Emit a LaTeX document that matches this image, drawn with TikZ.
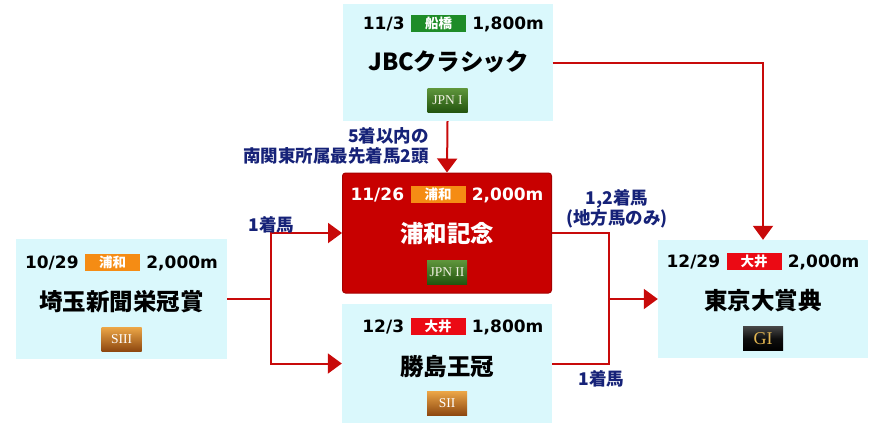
\documentclass[tikz,border=0pt]{standalone}
\usepackage{fontspec}
\setmainfont{DejaVu Sans}
\newfontfamily\cjk{Noto Sans CJK JP}
\newfontfamily\gradefont{Liberation Serif}
\usetikzlibrary{arrows.meta}
\definecolor{boxcyan}{RGB}{218,248,252}
\definecolor{redbox}{RGB}{200,0,0}
\definecolor{rededge}{RGB}{165,0,0}
\definecolor{linered}{RGB}{200,10,10}
\definecolor{navy}{RGB}{22,34,120}
\definecolor{vgreen}{RGB}{30,140,40}
\definecolor{vorange}{RGB}{245,140,20}
\definecolor{vred}{RGB}{235,10,20}
\definecolor{gold}{RGB}{225,180,80}
\tikzset{
  racebox/.style={rectangle, fill=boxcyan, inner sep=0pt, minimum width=210pt},
  redrace/.style={rectangle, fill=redbox, draw=rededge, line width=1pt, rounded corners=3pt, inner sep=0pt, minimum width=209pt},
  venue/.style={rectangle, inner sep=0pt, minimum width=55pt, minimum height=17pt, text=white, font=\cjk\bfseries\fontsize{13.5}{13.5}\selectfont},
  datetxt/.style={inner sep=0pt, text height=12.4pt, text depth=0pt, font=\bfseries\fontsize{17}{17}\selectfont},
  racetitle/.style={inner sep=0pt, font=\cjk\bfseries\fontsize{23.5}{24}\selectfont},
  grade/.style={rectangle, inner sep=0pt, minimum width=40pt, minimum height=24pt, font=\gradefont\fontsize{13.5}{13.5}\selectfont},
  jpn/.style={grade, top color={rgb,255:red,95;green,150;blue,60}, bottom color={rgb,255:red,35;green,85;blue,15}, text={rgb,255:red,240;green,240;blue,225}},
  sgrade/.style={grade, top color={rgb,255:red,235;green,165;blue,70}, bottom color={rgb,255:red,140;green,70;blue,15}, text=white},
  ggrade/.style={grade, top color={rgb,255:red,70;green,70;blue,70}, bottom color=black, middle color={rgb,255:red,15;green,15;blue,15}, text=gold, font=\gradefont\fontsize{18}{18}\selectfont},
  conn/.style={draw=linered, line width=2pt},
  arr/.style={conn, -{Triangle[length=14pt,width=20pt]}},
  lab/.style={inner sep=0pt, text=navy, font=\cjk\bfseries\fontsize{17.5}{20}\selectfont},
}
\begin{document}
\begin{tikzpicture}[x=1pt,y=-1pt]
\useasboundingbox (0,0) rectangle (885,426);
% boxes
\node[racebox, minimum height=117pt] (top) at (447.5,62.5) {};
\node[redrace, minimum height=120pt] (ctr) at (447,233) {};
\node[racebox, minimum width=211pt, minimum height=120pt] (left) at (121.5,299) {};
\node[racebox, minimum height=119pt] (bot) at (447,363.5) {};
\node[racebox, minimum height=118pt] (right) at (763,299) {};
% top box content
\node[venue, fill=vgreen] (topv) at (438.5,23) {船橋};
\node[datetxt, anchor=east] (topd) at ([xshift=-6pt]topv.west) {11/3};
\node[datetxt, anchor=west] (topk) at ([xshift=6pt]topv.east) {1,800m};
\node[racetitle] (topt) at (448,62) {JBC{\addfontfeatures{CharacterWidth=AlternateProportional,LetterSpace=9}クラシック}};
\node[jpn] (topg) at (447.5,100) {JPN I};
% centre box content
\node[venue, fill=vorange] (ctrv) at (438,194) {浦和};
\node[datetxt, anchor=east, text=white] (ctrd) at ([xshift=-6pt]ctrv.west) {11/26};
\node[datetxt, anchor=west, text=white] (ctrk) at ([xshift=6pt]ctrv.east) {2,000m};
\node[racetitle, text=white] (ctrt) at (447,234) {浦和記念};
\node[jpn] (ctrg) at (447,272) {JPN II};
% left box content
\node[venue, fill=vorange] (leftv) at (112.5,262) {浦和};
\node[datetxt, anchor=east] (leftd) at ([xshift=-6pt]leftv.west) {10/29};
\node[datetxt, anchor=west] (leftk) at ([xshift=6pt]leftv.east) {2,000m};
\node[racetitle] (leftt) at (121.5,302) {埼玉新聞栄冠賞};
\node[sgrade] (leftg) at (121.5,339.5) {SIII};
% bottom box content
\node[venue, fill=vred] (botv) at (438,326) {大井};
\node[datetxt, anchor=east] (botd) at ([xshift=-6pt]botv.west) {12/3};
\node[datetxt, anchor=west] (botk) at ([xshift=6pt]botv.east) {1,800m};
\node[racetitle] (bott) at (447,367) {勝島王冠};
\node[sgrade] (botg) at (447,403.5) {SII};
% right box content
\node[venue, fill=vred] (rightv) at (754,261) {大井};
\node[datetxt, anchor=east] (rightd) at ([xshift=-6pt]rightv.west) {12/29};
\node[datetxt, anchor=west] (rightk) at ([xshift=6pt]rightv.east) {2,000m};
\node[racetitle] (rightt) at (763,301) {東京大賞典};
\node[ggrade] (rightg) at (763,338.5) {GI};
% junctions
\coordinate (j1) at (271,299);
\coordinate (j2) at (609,299);
% connectors
\draw[conn] (left.east) -- (j1);
\draw[arr] (j1) |- (ctr.west);
\draw[arr] (j1) |- (bot.west);
\draw[arr] (top.south) -- (ctr.north);
\draw[arr] (top.east) -| (right.north);
\draw[conn] (ctr.east) -| (j2);
\draw[conn] (bot.east) -| (j2);
\draw[arr] (j2) -- (right.west);
% labels
\node[lab, align=right, anchor=east] (lab1) at (429,146) {5着以内の\\南関東所属最先着馬2頭};
\node[lab] (lab2) at (271.5,225) {1着馬};
\node[lab, align=center] (lab3) at (617,209) {1,2着馬\\(地方馬のみ)};
\node[lab] (lab4) at (601.5,379) {1着馬};
\end{tikzpicture}
\end{document}
